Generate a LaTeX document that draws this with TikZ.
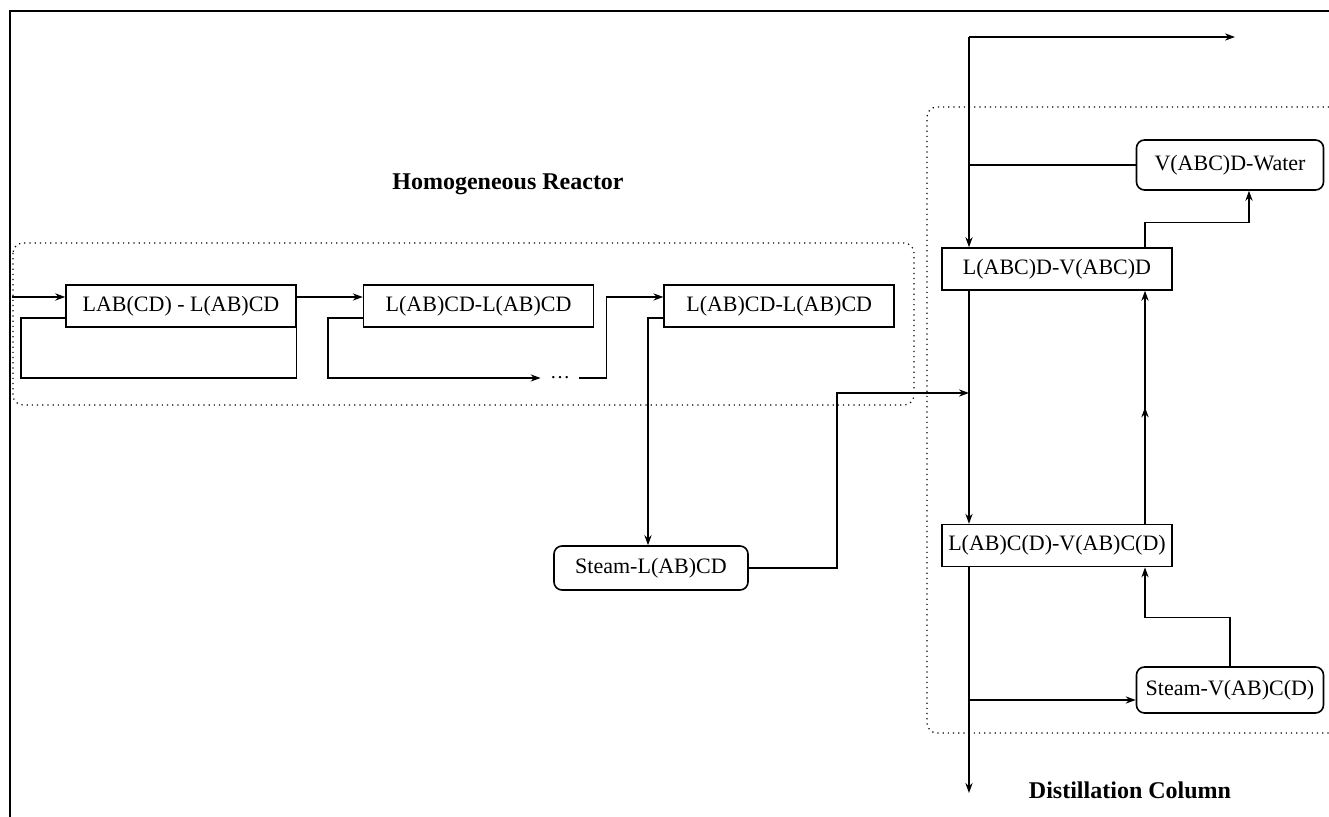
\documentclass[tikz,border=0pt]{standalone}
\usepackage{fontspec}
\setmainfont{Liberation Serif}
\usetikzlibrary{arrows.meta, positioning, decorations.markings}

\begin{document}
\begin{tikzpicture}[
    x=0.5pt, y=-0.5pt,
    stage/.style={draw, line width=0.8pt, minimum width=115pt,
                  minimum height=21pt, inner sep=2pt,
                  font=\fontsize{11}{13}\selectfont},
    unit/.style={stage, rounded corners=4pt, minimum width=93.5pt,
                 minimum height=24pt},
    arrow/.style={-{Stealth[length=5pt,width=3.6pt]}, line width=0.6pt},
    wire/.style={line width=0.6pt},
    midarrow/.style={postaction={decorate}, decoration={markings,
        mark=at position 0.5 with {\arrow{Stealth[length=5pt,width=3.6pt]}}}},
    zone/.style={dotted, line width=0.6pt, rounded corners=5pt},
    title/.style={font=\bfseries\fontsize{12}{14}\selectfont}
  ]
  \useasboundingbox (0,0) rectangle (1329,817);

  % Frame
  \draw[line width=0.9pt] (1329,11) -- (10,11) -- (10,817);

  % Homogeneous reactor
  \node[title] (hrtitle) at (508,184) {Homogeneous Reactor};
  \node[stage] (r1) at (181,306) {LAB(CD) - L(AB)CD};
  \node[stage, right=33pt of r1] (r2) {L(AB)CD-L(AB)CD};
  \node[stage, right=34.5pt of r2] (r3) {L(AB)CD-L(AB)CD};
  \node[inner sep=0pt, minimum width=19pt] (dots) at (560,378) {\dots};
  \node[unit, minimum width=97pt, minimum height=22pt] (steamL) at (651,568)
        {Steam-L(AB)CD};

  \draw[zone] (13,243) rectangle (914,405);

  % Distillation column
  \node[title] (dctitle) at (1130,790) {Distillation Column};
  \node[stage] (col1) at (1057,269) {L(ABC)D-V(ABC)D};
  \node[stage, below=116.5pt of col1] (col2) {L(AB)C(D)-V(AB)C(D)};
  \node[unit, minimum height=25pt] (water) at (1230,165) {V(ABC)D-Water};
  \node[unit, minimum height=23pt] (steamV) at (1230,690) {Steam-V(AB)C(D)};

  \draw[zone] (1329,107) -- (927,107) -- (927,733) -- (1329,733);

  % Points
  \coordinate (feed) at (12,297);
  \coordinate (loopA) at (21,378);
  \coordinate (loopB) at (328,378);
  \coordinate (riser) at (837,393);
  \coordinate (mix) at (969,393);
  \coordinate (lx) at (969,0);
  \coordinate (vx) at (1145,0);
  \coordinate (topbend) at (969,37);
  \coordinate (topout) at (1235,37);
  \coordinate (split) at (969,700);
  \coordinate (botout) at (969,793);

  % Reactor connections
  \draw[arrow] (feed) -- (feed -| r1.west);
  \draw[wire] (r1.south east) |- (loopA) |- ([yshift=-6pt]r1.west);
  \draw[arrow] ([yshift=4.5pt]r1.east) -- ([yshift=4.5pt]r1.east -| r2.west);
  \draw[arrow] ([yshift=-6pt]r2.west) -| (loopB) -- (dots.west);
  \draw[arrow] (dots.east) -- ++(27,0) |- ([yshift=4.5pt]r3.west);
  \draw[arrow] ([yshift=-6pt]r3.west) -| ([xshift=-1.5pt]steamL.north);
  \draw[arrow] (steamL.east) -| (riser) -- (mix);

  % Column connections
  \draw[arrow] (topbend) -- (topout);
  \draw[arrow] (topbend) -- (col1.north -| topbend);
  \draw[wire] (water.west) -- (water.west -| lx);
  \draw[arrow] (col1.north -| vx) -- ++(0,-25) -| ([xshift=9.5pt]water.south);
  \draw[arrow] (col1.south -| lx) -- (col2.north -| lx);
  \draw[arrow, midarrow] (col2.north -| vx) -- (col1.south -| vx);
  \draw[arrow] (steamV.north) -- ++(0,-49) -| (col2.south -| vx);
  \draw[arrow] (col2.south -| lx) -- (botout);
  \draw[arrow] (split) -- (split -| steamV.west);
\end{tikzpicture}
\end{document}
